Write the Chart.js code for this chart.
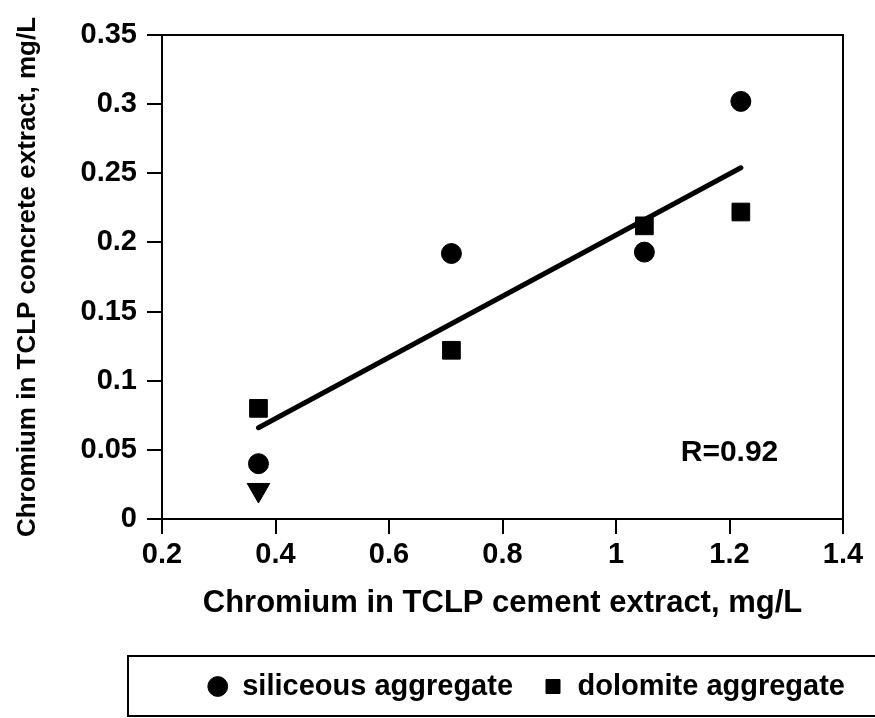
<!DOCTYPE html>
<html>
<head>
<meta charset="utf-8">
<script src="https://cdn.jsdelivr.net/npm/chart.js@4.4.1/dist/chart.umd.min.js"></script>
<style>
  html, body { margin: 0; padding: 0; background: #fff; }
  #chart { display: block; }
</style>
</head>
<body>
<canvas id="chart" width="875" height="718"></canvas>
<script>
// values
const siliceousX = [0.37, 0.71, 1.05, 1.22];
const siliceousY = [0.040, 0.192, 0.193, 0.302];
const dolomiteX = [0.37, 0.71, 1.05, 1.22];
const dolomiteY = [0.080, 0.122, 0.212, 0.222];
const fitX = [0.37, 1.22];
const fitY = [0.066, 0.254];
const arrowX = [0.37];   // "below detection" arrow under the first circle
const arrowY = [0.021];

const xTickValues = [0.2, 0.4, 0.6, 0.8, 1.0, 1.2, 1.4];
const xTickLabels = ['0.2', '0.4', '0.6', '0.8', '1', '1.2', '1.4'];
const yTickValues = [0, 0.05, 0.1, 0.15, 0.2, 0.25, 0.3, 0.35];
const yTickLabels = ['0', '0.05', '0.1', '0.15', '0.2', '0.25', '0.3', '0.35'];

const rLabel = 'R=0.92';
const rPos = [1.2, 0.048];

const FONT = '"Liberation Sans", Arial, Helvetica, sans-serif';
const toPts = (xs, ys) => xs.map((x, i) => ({x: x, y: ys[i]}));

const extras = {
  id: 'extras',
  beforeDraw(chart) {
    const ctx = chart.ctx;
    ctx.save();
    ctx.fillStyle = '#fff';
    ctx.fillRect(0, 0, chart.width, chart.height);
    ctx.restore();
  },
  afterDraw(chart) {
    const {ctx, chartArea: a, scales} = chart;
    ctx.save();
    ctx.strokeStyle = '#000';
    ctx.lineWidth = 2;
    // closed box round the plot
    ctx.strokeRect(a.left, a.top, a.right - a.left, a.bottom - a.top);
    // frame round the legend (runs off the right edge like the scan)
    ctx.strokeRect(128, 656, 752, 60);
    // correlation note
    ctx.fillStyle = '#000';
    ctx.font = 'bold 30px ' + FONT;
    ctx.textAlign = 'center';
    ctx.textBaseline = 'middle';
    ctx.fillText(rLabel, scales.x.getPixelForValue(rPos[0]), scales.y.getPixelForValue(rPos[1]));
    ctx.restore();
  }
};

const ctx = document.getElementById('chart');
const myChart = new Chart(ctx, {
  type: 'scatter',
  data: {
    datasets: [{
      label: 'siliceous aggregate',
      data: toPts(siliceousX, siliceousY),
      yAxisID: 'y',
      pointStyle: 'circle',
      pointRadius: 10,
      backgroundColor: '#000',
      borderColor: '#000'
    }, {
      label: 'dolomite aggregate',
      data: toPts(dolomiteX, dolomiteY),
      yAxisID: 'y',
      pointStyle: 'rect',
      pointRadius: 12.5,
      backgroundColor: '#000',
      borderColor: '#000'
    }, {
      label: 'fit',
      type: 'line',
      data: toPts(fitX, fitY),
      yAxisID: 'y',
      borderColor: '#000',
      borderWidth: 5,
      borderCapStyle: 'round',
      pointRadius: 0
    }, {
      label: 'arrow',
      data: toPts(arrowX, arrowY),
      yAxisID: 'y',
      pointStyle: 'triangle',
      pointRotation: 180,
      pointRadius: 13,
      backgroundColor: '#000',
      borderColor: '#000'
    }]
  },
  options: {
    responsive: false,
    animation: false,
    layout: {
      padding: {top: 35, right: 0, left: 0, bottom: 7}
    },
    plugins: {
      tooltip: {enabled: false},
      legend: {
        position: 'bottom',
        align: 'end',
        labels: {
          filter: item => item.datasetIndex < 2,
          usePointStyle: true,
          boxWidth: 20,
          boxHeight: 14,
          padding: 30,
          color: '#000',
          font: {family: FONT, size: 29, weight: 'bold'}
        }
      }
    },
    scales: {
      x: {
        type: 'linear',
        min: 0.2,
        max: 1.4,
        afterFit: s => { s.height = 123; },
        afterBuildTicks: s => { s.ticks = xTickValues.map(v => ({value: v})); },
        ticks: {
          callback: (v, i) => xTickLabels[i],
          color: '#000',
          padding: 4,
          maxRotation: 0,
          font: {family: FONT, size: 29, weight: 'bold'}
        },
        grid: {drawOnChartArea: false, tickLength: 15, color: '#000', lineWidth: 2},
        border: {color: '#000', width: 2},
        title: {
          display: true,
          text: 'Chromium in TCLP cement extract, mg/L',
          color: '#000',
          padding: {top: 4, bottom: 20},
          font: {family: FONT, size: 31, weight: 'bold'}
        }
      },
      y: {
        type: 'linear',
        min: 0,
        max: 0.35,
        afterFit: s => { s.width = 162; },
        afterBuildTicks: s => { s.ticks = yTickValues.map(v => ({value: v})); },
        ticks: {
          callback: (v, i) => yTickLabels[i],
          color: '#000',
          padding: 10,
          font: {family: FONT, size: 29, weight: 'bold'}
        },
        grid: {drawOnChartArea: false, tickLength: 15, color: '#000', lineWidth: 2},
        border: {color: '#000', width: 2},
        title: {
          display: true,
          text: 'Chromium in TCLP concrete extract, mg/L',
          color: '#000',
          padding: {top: 12, bottom: 4},
          font: {family: FONT, size: 26, weight: 'bold'}
        }
      },
      // empty strip on the right so the plot stops where the scan does
      yRight: {
        type: 'linear',
        position: 'right',
        afterFit: s => { s.width = 32; },
        ticks: {display: false},
        grid: {display: false},
        border: {display: false}
      }
    }
  },
  plugins: [extras]
});
</script>
</body>
</html>
